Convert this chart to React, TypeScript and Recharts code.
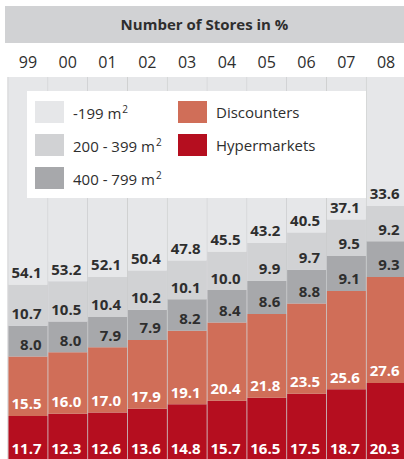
import React from "react";
import { BarChart, Bar, XAxis, YAxis, CartesianGrid, LabelList, Legend } from "recharts";

const years = ["99", "00", "01", "02", "03", "04", "05", "06", "07", "08"];
const hypermarkets = [11.7, 12.3, 12.6, 13.6, 14.8, 15.7, 16.5, 17.5, 18.7, 20.3];
const discounters = [15.5, 16.0, 17.0, 17.9, 19.1, 20.4, 21.8, 23.5, 25.6, 27.6];
const size400to799 = [8.0, 8.0, 7.9, 7.9, 8.2, 8.4, 8.6, 8.8, 9.1, 9.3];
const size200to399 = [10.7, 10.5, 10.4, 10.2, 10.1, 10.0, 9.9, 9.7, 9.5, 9.2];
const sizeUpTo199 = [54.1, 53.2, 52.1, 50.4, 47.8, 45.5, 43.2, 40.5, 37.1, 33.6];

const FONT = '"Open Sans", "DejaVu Sans", sans-serif';
const TEXT_DARK = "#2e2e2e";

// stacked bottom to top
const series = [
  { key: "hyper", name: "Hypermarkets", fill: "#b50e1f", text: "#ffffff", sup: false },
  { key: "disc", name: "Discounters", fill: "#d06e58", text: "#ffffff", sup: false },
  { key: "s400", name: "400 - 799 m", fill: "#a7a8ab", text: TEXT_DARK, sup: true },
  { key: "s200", name: "200 - 399 m", fill: "#d1d2d4", text: TEXT_DARK, sup: true },
  { key: "s199", name: "-199 m", fill: "#e6e7e9", text: TEXT_DARK, sup: true },
];

const data = years.map((year, i) => ({
  year,
  hyper: hypermarkets[i],
  disc: discounters[i],
  s400: size400to799[i],
  s200: size200to399[i],
  s199: sizeUpTo199[i],
}));

// legend grid: first column the size classes, second column the formats
const legendSlots: Record<string, { col: number; row: number }> = {
  s199: { col: 0, row: 0 },
  s200: { col: 0, row: 1 },
  s400: { col: 0, row: 2 },
  disc: { col: 1, row: 0 },
  hyper: { col: 1, row: 1 },
};

function YearTick(props: any) {
  const { x, y, payload } = props;
  return (
    <text x={x} y={y - 9} textAnchor="middle" fontFamily={FONT} fontSize={16} fill={TEXT_DARK}>
      {payload.value}
    </text>
  );
}

function segmentLabel(color: string) {
  return (props: any) => {
    const { x, y, width, height, value } = props;
    return (
      <text
        x={Number(x) + Number(width) - 6}
        y={Number(y) + Number(height) - 12}
        dy="0.36em"
        textAnchor="end"
        fontFamily={FONT}
        fontSize={15}
        fontWeight={700}
        fill={color}
      >
        {Number(value).toFixed(1)}
      </text>
    );
  };
}

function LegendBox() {
  return (
    <div
      style={{
        position: "relative",
        width: 339,
        height: 107,
        background: "#ffffff",
        fontFamily: FONT,
        fontSize: 15,
        color: TEXT_DARK,
      }}
    >
      {[...series].reverse().map((s) => {
        const slot = legendSlots[s.key];
        return (
          <div
            key={s.key}
            style={{
              position: "absolute",
              left: 8 + slot.col * 143,
              top: 10 + slot.row * 33,
              display: "flex",
              alignItems: "center",
              height: 22,
              whiteSpace: "nowrap",
            }}
          >
            <span style={{ width: 29, height: 22, background: s.fill, marginRight: 9 }} />
            <span>
              {s.name}
              {s.sup && <sup style={{ fontSize: 10, marginLeft: 1 }}>2</sup>}
            </span>
          </div>
        );
      })}
    </div>
  );
}

export default function App() {
  return (
    <div style={{ position: "absolute", left: 0, top: 0, width: 404, height: 459, overflow: "hidden", background: "#fff" }}>
      <div
        style={{
          position: "absolute",
          left: 5,
          top: 6,
          width: 399,
          height: 37,
          lineHeight: "37px",
          background: "#d1d2d4",
          textAlign: "center",
          fontFamily: FONT,
          fontSize: 15,
          fontWeight: 700,
          color: TEXT_DARK,
        }}
      >
        Number of Stores in %
      </div>
      <div style={{ position: "absolute", left: 0, top: 0 }}>
        <BarChart
          width={406}
          height={461}
          data={data}
          margin={{ top: 47, right: 0, bottom: 0, left: 8 }}
          barCategoryGap={0.5}
        >
          <CartesianGrid
            horizontal={false}
            fill="#e6e7e9"
            stroke="#c6c7c9"
            verticalCoordinatesGenerator={({ offset }: any) =>
              years.map((_, i) => offset.left + (i * offset.width) / years.length)
            }
          />
          <XAxis
            dataKey="year"
            orientation="top"
            height={30}
            axisLine={false}
            tickLine={false}
            tickSize={0}
            tickMargin={0}
            interval={0}
            tick={<YearTick />}
          />
          <YAxis hide domain={[0, 100]} />
          {series.map((s) => (
            <Bar key={s.key} dataKey={s.key} name={s.name} stackId="stores" fill={s.fill} isAnimationActive={false}>
              <LabelList dataKey={s.key} content={segmentLabel(s.text)} />
            </Bar>
          ))}
          <Legend
            layout="horizontal"
            verticalAlign="middle"
            align="center"
            wrapperStyle={{ left: 27, top: 91, width: 339, height: 107 }}
            content={() => <LegendBox />}
          />
        </BarChart>
      </div>
    </div>
  );
}
